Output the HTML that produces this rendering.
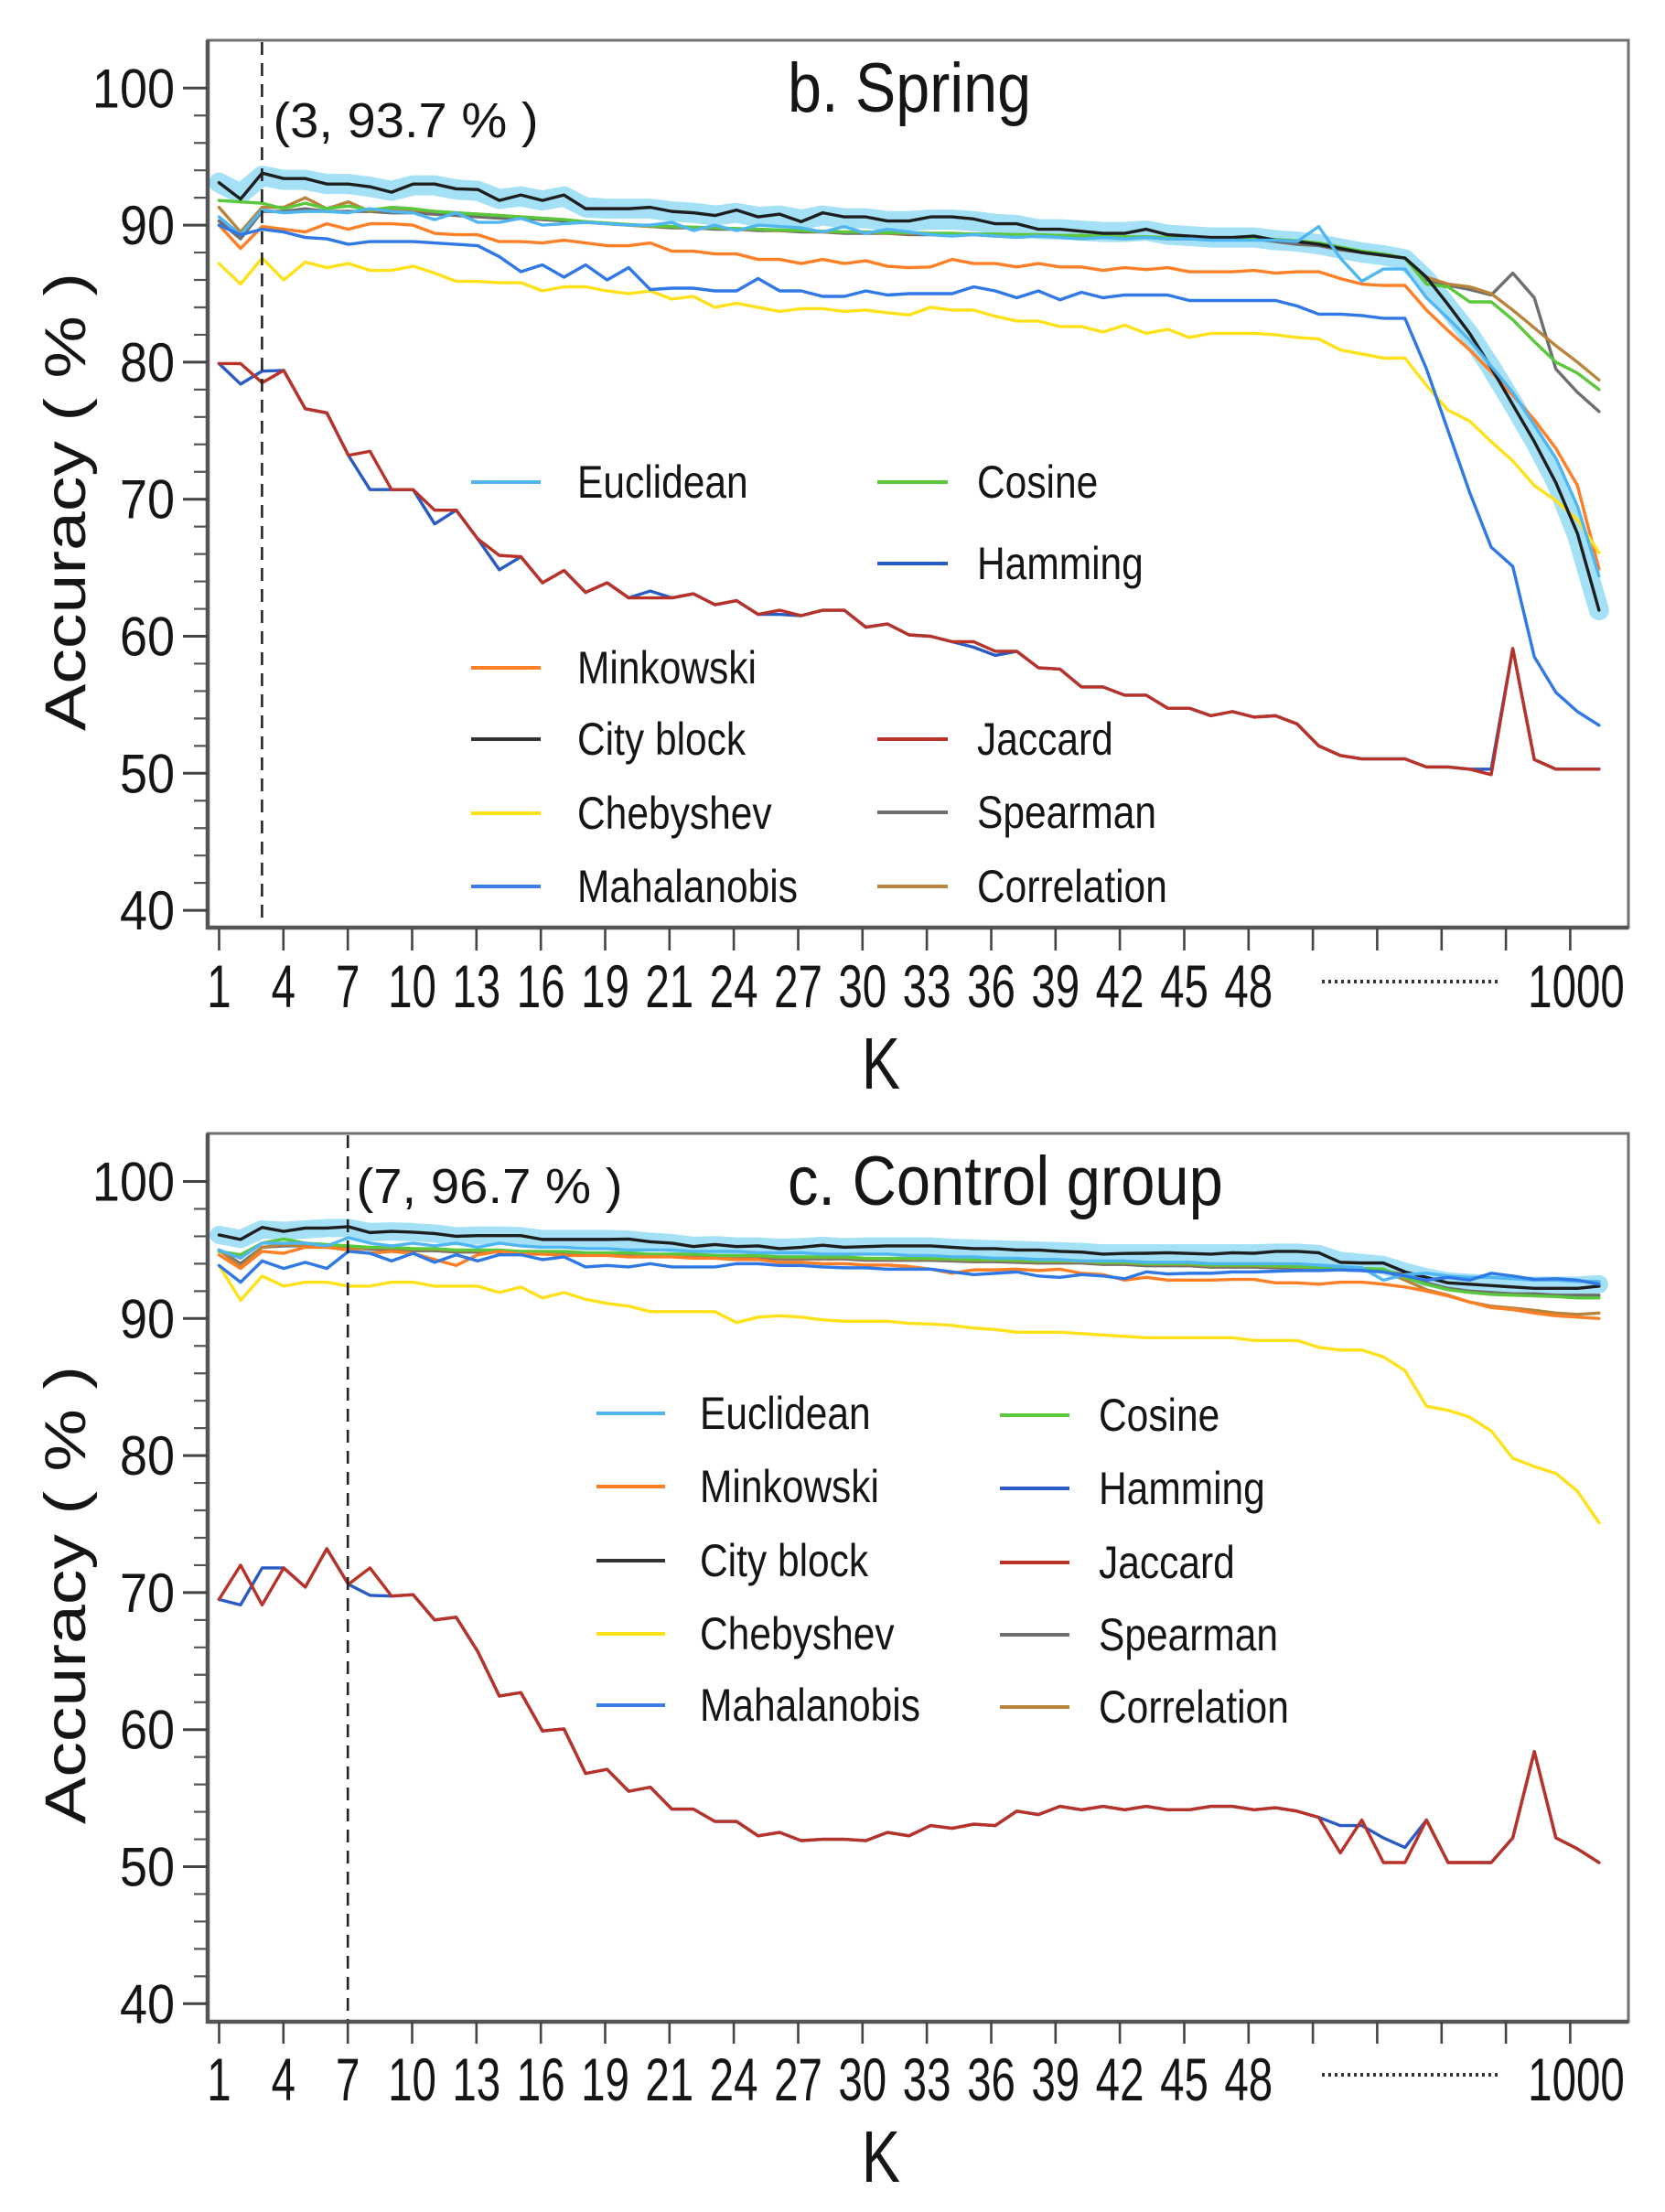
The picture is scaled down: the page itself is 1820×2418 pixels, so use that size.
<!DOCTYPE html>
<html><head><meta charset="utf-8"><style>
html,body{margin:0;padding:0;background:#fff;}
svg{display:block;}
text{font-family:"Liberation Sans",Arial,sans-serif;fill:#151515;}
.s{fill:none;stroke-width:3.4;stroke-linejoin:round;stroke-linecap:round;}
</style></head><body>
<svg width="1820" height="2418" viewBox="0 0 1820 2418" xmlns="http://www.w3.org/2000/svg">
<rect width="1820" height="2418" fill="#fff"/>

<!-- ================= PANEL B ================= -->
<g>
<!-- data -->
<g transform="translate(239.4,1594.3) scale(23.57,-14.98)">
<polyline class="s" vector-effect="non-scaling-stroke" style="stroke:#a4e1f6;stroke-width:22" points="0,93.1 1,92.3 2,93.6 3,93.3 4,93.3 5,93 6,93 7,92.8 8,92.5 9,92.9 10,92.9 11,92.6 12,92.5 13,91.9 14,92.1 15,91.8 16,92.1 17,91.3 18,91.2 19,91.2 20,91.2 21,91 22,90.9 23,90.7 24,90.9 25,90.6 26,90.7 27,90.4 28,90.7 29,90.5 30,90.5 31,90.3 32,90.3 33,90.4 34,90.4 35,90.3 36,90.1 37,90 38,89.7 39,89.7 40,89.6 41,89.5 42,89.5 43,89.6 44,89.3 45,89.2 46,89.1 47,89.1 48,89.1 49,88.9 50,88.8 51,88.6 52,88.3 53,88 54,87.8 55,87.5 56,86 57,84 58,82 59,79.6 60,77 61,74.3 62,71.3 63,67.3 64,61.9"/>
<polyline class="s" vector-effect="non-scaling-stroke" stroke="#6e6e6e" points="0,90.3 1,89 2,91 3,91 4,91.2 5,91 6,91 7,91 8,90.9 9,90.9 10,90.8 11,90.7 12,90.6 13,90.5 14,90.5 15,90.4 16,90.3 17,90.2 18,90.1 19,90 20,89.9 21,89.8 22,89.8 23,89.7 24,89.7 25,89.6 26,89.6 27,89.5 28,89.5 29,89.4 30,89.4 31,89.4 32,89.3 33,89.3 34,89.3 35,89.3 36,89.2 37,89.2 38,89.2 39,89.2 40,89.1 41,89.1 42,89.1 43,89.1 44,89 45,89 46,89 47,89 48,89 49,88.8 50,88.6 51,88.5 52,88.2 53,88 54,87.8 55,87.6 56,86 57,85.6 58,85.3 59,84.9 60,86.5 61,84.7 62,79.5 63,77.8 64,76.4"/>
<polyline class="s" vector-effect="non-scaling-stroke" stroke="#b8843c" points="0,91.3 1,89.5 2,91.3 3,91.3 4,92 5,91.2 6,91.7 7,91 8,91.2 9,91.1 10,91 11,90.9 12,90.8 13,90.7 14,90.6 15,90.5 16,90.4 17,90.2 18,90.1 19,90 20,89.9 21,89.9 22,89.8 23,89.8 24,89.7 25,89.7 26,89.6 27,89.6 28,89.5 29,89.5 30,89.5 31,89.4 32,89.4 33,89.4 34,89.4 35,89.3 36,89.3 37,89.3 38,89.3 39,89.2 40,89.2 41,89.2 42,89.1 43,89.1 44,89.1 45,89 46,89 47,89 48,89 49,88.9 50,88.8 51,88.6 52,88.3 53,88 54,87.8 55,87.6 56,86.2 57,85.7 58,85.5 59,85 60,83.8 61,82.5 62,81.2 63,80 64,78.7"/>
<polyline class="s" vector-effect="non-scaling-stroke" stroke="#59c83a" points="0,91.8 1,91.7 2,91.6 3,91.2 4,91.6 5,91.2 6,91.4 7,91.1 8,91.3 9,91.2 10,91 11,90.9 12,90.8 13,90.7 14,90.6 15,90.5 16,90.4 17,90.25 18,90.15 19,90.05 20,89.95 21,89.9 22,89.85 23,89.8 24,89.75 25,89.7 26,89.65 27,89.6 28,89.55 29,89.5 30,89.5 31,89.45 32,89.45 33,89.4 34,89.4 35,89.35 36,89.35 37,89.3 38,89.3 39,89.25 40,89.25 41,89.2 42,89.15 43,89.15 44,89.1 45,89.05 46,89.05 47,89 48,89 49,88.95 50,88.85 51,88.7 52,88.4 53,88.1 54,87.9 55,87.6 56,85.7 57,85.5 58,84.4 59,84.4 60,83.1 61,81.5 62,80 63,79.2 64,78"/>
<polyline class="s" vector-effect="non-scaling-stroke" stroke="#ff7f27" points="0,90 1,88.3 2,89.9 3,89.7 4,89.5 5,90.1 6,89.7 7,90.1 8,90.1 9,90 10,89.4 11,89.3 12,89.3 13,88.8 14,88.8 15,88.7 16,88.9 17,88.7 18,88.5 19,88.5 20,88.7 21,88.1 22,88.1 23,87.9 24,87.9 25,87.5 26,87.5 27,87.2 28,87.5 29,87.2 30,87.4 31,87 32,86.9 33,86.95 34,87.5 35,87.2 36,87.2 37,86.95 38,87.2 39,86.95 40,86.95 41,86.7 42,86.9 43,86.76 44,86.9 45,86.6 46,86.6 47,86.6 48,86.7 49,86.5 50,86.6 51,86.6 52,86.1 53,85.7 54,85.6 55,85.6 56,83.8 57,82.3 58,80.9 59,79.3 60,77.6 61,75.8 62,73.7 63,71 64,64.9"/>
<polyline class="s" vector-effect="non-scaling-stroke" stroke="#ffe11a" points="0,87.2 1,85.7 2,87.6 3,86 4,87.3 5,86.9 6,87.2 7,86.7 8,86.7 9,87 10,86.5 11,85.9 12,85.9 13,85.8 14,85.8 15,85.2 16,85.5 17,85.5 18,85.2 19,85 20,85.2 21,84.6 22,84.8 23,84 24,84.3 25,84 26,83.7 27,83.9 28,83.9 29,83.7 30,83.8 31,83.6 32,83.45 33,84 34,83.8 35,83.8 36,83.35 37,83 38,83 39,82.6 40,82.6 41,82.2 42,82.7 43,82.1 44,82.4 45,81.8 46,82.1 47,82.1 48,82.1 49,82 50,81.8 51,81.7 52,80.9 53,80.6 54,80.3 55,80.3 56,78.3 57,76.5 58,75.7 59,74.2 60,72.8 61,71 62,69.9 63,68.5 64,66.1"/>
<polyline class="s" vector-effect="non-scaling-stroke" stroke="#1e1e1e" points="0,93.1 1,91.9 2,93.8 3,93.4 4,93.4 5,93 6,93 7,92.8 8,92.4 9,93 10,93 11,92.65 12,92.6 13,91.8 14,92.2 15,91.8 16,92.2 17,91.2 18,91.2 19,91.2 20,91.3 21,91 22,90.9 23,90.7 24,91.1 25,90.6 26,90.8 27,90.25 28,90.9 29,90.6 30,90.6 31,90.3 32,90.3 33,90.6 34,90.6 35,90.45 36,90.1 37,90.1 38,89.7 39,89.7 40,89.55 41,89.4 42,89.4 43,89.7 44,89.3 45,89.2 46,89.1 47,89.1 48,89.2 49,88.9 50,88.8 51,88.6 52,88.3 53,88 54,87.8 55,87.6 56,86.2 57,84.2 58,82.1 59,79.6 60,76.9 61,74.2 62,71.2 63,67.5 64,61.9"/>
<polyline class="s" vector-effect="non-scaling-stroke" stroke="#4fb6f2" points="0,90.6 1,89.3 2,91.1 3,90.9 4,91 5,91 6,90.9 7,91.2 8,91 9,90.9 10,90.4 11,90.9 12,90.2 13,90.2 14,90.5 15,90 16,90.1 17,90.2 18,90.1 19,90 20,90 21,90.2 22,89.6 23,90 24,89.6 25,90 26,89.9 27,89.8 28,89.5 29,89.9 30,89.4 31,89.7 32,89.5 33,89.3 34,89.2 35,89.3 36,89.2 37,89.1 38,89.2 39,89.1 40,89 41,89.1 42,89 43,89.1 44,89 45,89 46,88.9 47,88.9 48,88.9 49,88.9 50,88.8 51,89.9 52,87.6 53,85.9 54,86.8 55,86.8 56,84.7 57,83.2 58,81.6 59,79.7 60,77.8 61,75.4 62,73 63,69.5 64,64.4"/>
<polyline class="s" vector-effect="non-scaling-stroke" stroke="#2f78e6" points="0,90 1,89.3 2,89.7 3,89.5 4,89.1 5,89 6,88.6 7,88.8 8,88.8 9,88.8 10,88.7 11,88.6 12,88.5 13,87.7 14,86.6 15,87.1 16,86.2 17,87.1 18,86 19,86.9 20,85.3 21,85.4 22,85.4 23,85.2 24,85.2 25,86.1 26,85.2 27,85.2 28,84.8 29,84.8 30,85.2 31,84.9 32,85 33,85 34,85 35,85.5 36,85.2 37,84.7 38,85.2 39,84.55 40,85.1 41,84.7 42,84.9 43,84.9 44,84.9 45,84.5 46,84.5 47,84.5 48,84.5 49,84.5 50,84.1 51,83.5 52,83.5 53,83.4 54,83.2 55,83.2 56,79.5 57,75 58,70.5 59,66.5 60,65.1 61,58.5 62,55.9 63,54.5 64,53.5"/>
<polyline class="s" vector-effect="non-scaling-stroke" stroke="#2a5bc4" points="0,79.9 1,78.4 2,79.35 3,79.4 4,76.6 5,76.3 6,73.2 7,70.7 8,70.7 9,70.7 10,68.2 11,69.2 12,67.1 13,64.85 14,65.8 15,63.9 16,64.8 17,63.2 18,63.9 19,62.8 20,63.3 21,62.8 22,63.1 23,62.3 24,62.6 25,61.6 26,61.6 27,61.5 28,61.9 29,61.9 30,60.66 31,60.9 32,60.1 33,60 34,59.6 35,59.2 36,58.6 37,58.9 38,57.7 39,57.6 40,56.3 41,56.3 42,55.7 43,55.7 44,54.75 45,54.75 46,54.2 47,54.5 48,54.1 49,54.2 50,53.6 51,52 52,51.3 53,51.05 54,51.05 55,51.05 56,50.46 57,50.46 58,50.3 59,50.3 60,59.1 61,51 62,50.3 63,50.3 64,50.3"/>
<polyline class="s" vector-effect="non-scaling-stroke" stroke="#b83228" points="0,79.9 1,79.9 2,78.5 3,79.4 4,76.6 5,76.3 6,73.2 7,73.5 8,70.7 9,70.7 10,69.2 11,69.2 12,67.1 13,65.9 14,65.8 15,63.9 16,64.8 17,63.2 18,63.9 19,62.8 20,62.8 21,62.8 22,63.1 23,62.3 24,62.6 25,61.6 26,61.9 27,61.5 28,61.9 29,61.9 30,60.66 31,60.9 32,60.1 33,60 34,59.6 35,59.6 36,58.9 37,58.9 38,57.7 39,57.6 40,56.3 41,56.3 42,55.7 43,55.7 44,54.75 45,54.75 46,54.2 47,54.5 48,54.1 49,54.2 50,53.6 51,52 52,51.3 53,51.05 54,51.05 55,51.05 56,50.46 57,50.46 58,50.3 59,49.9 60,59.1 61,51 62,50.3 63,50.3 64,50.3"/>
</g>

<!-- dashed marker -->
<line x1="286.4" y1="46" x2="286.4" y2="1013" stroke="#222" stroke-width="2.6" stroke-dasharray="14 9"/>

<!-- frame -->
<rect x="227" y="44" width="1553" height="970" fill="none" stroke="#707070" stroke-width="3"/>
<path d="M227 44 V1014 H1780" fill="none" stroke="#555" stroke-width="4.5"/>

<!-- y ticks -->
<path d="M200 100H227M200 90H227M200 80H227M200 70H227M200 60H227M200 50H227M200 40H227" transform="translate(0,1594.3) scale(1,-14.98)" vector-effect="non-scaling-stroke" stroke="#444" stroke-width="3" fill="none"/>
<path d="M212 98H227M212 96H227M212 94H227M212 92H227M212 88H227M212 86H227M212 84H227M212 82H227M212 78H227M212 76H227M212 74H227M212 72H227M212 68H227M212 66H227M212 64H227M212 62H227M212 58H227M212 56H227M212 54H227M212 52H227M212 48H227M212 46H227M212 44H227M212 42H227" transform="translate(0,1594.3) scale(1,-14.98)" vector-effect="non-scaling-stroke" stroke="#555" stroke-width="2.2" fill="none"/>

<!-- y tick labels -->
<g font-size="60" text-anchor="end">
<text transform="translate(191,117.3) scale(0.9,1)">100</text>
<text transform="translate(191,267.1) scale(0.9,1)">90</text>
<text transform="translate(191,416.9) scale(0.9,1)">80</text>
<text transform="translate(191,566.7) scale(0.9,1)">70</text>
<text transform="translate(191,716.5) scale(0.9,1)">60</text>
<text transform="translate(191,866.3) scale(0.9,1)">50</text>
<text transform="translate(191,1016.1) scale(0.9,1)">40</text>
</g>

<!-- x ticks -->
<path d="M239.5 1015V1039M309.8 1015V1039M380.2 1015V1039M450.5 1015V1039M520.8 1015V1039M591.2 1015V1039M661.5 1015V1039M731.8 1015V1039M802.1 1015V1039M872.5 1015V1039M942.8 1015V1039M1013.1 1015V1039M1083.5 1015V1039M1153.8 1015V1039M1224.1 1015V1039M1294.5 1015V1039M1364.8 1015V1039M1435.1 1015V1039M1505.4 1015V1039M1575.8 1015V1039M1646.1 1015V1039M1716.4 1015V1039" stroke="#444" stroke-width="2.6" fill="none"/>

<!-- x tick labels -->
<g font-size="66" text-anchor="middle">
<text transform="translate(239.5,1101) scale(0.72,1)">1</text>
<text transform="translate(309.8,1101) scale(0.72,1)">4</text>
<text transform="translate(380.2,1101) scale(0.72,1)">7</text>
<text transform="translate(450.5,1101) scale(0.72,1)">10</text>
<text transform="translate(520.8,1101) scale(0.72,1)">13</text>
<text transform="translate(591.2,1101) scale(0.72,1)">16</text>
<text transform="translate(661.5,1101) scale(0.72,1)">19</text>
<text transform="translate(731.8,1101) scale(0.72,1)">21</text>
<text transform="translate(802.1,1101) scale(0.72,1)">24</text>
<text transform="translate(872.5,1101) scale(0.72,1)">27</text>
<text transform="translate(942.8,1101) scale(0.72,1)">30</text>
<text transform="translate(1013.1,1101) scale(0.72,1)">33</text>
<text transform="translate(1083.5,1101) scale(0.72,1)">36</text>
<text transform="translate(1153.8,1101) scale(0.72,1)">39</text>
<text transform="translate(1224.1,1101) scale(0.72,1)">42</text>
<text transform="translate(1294.5,1101) scale(0.72,1)">45</text>
<text transform="translate(1364.8,1101) scale(0.72,1)">48</text>
<text transform="translate(1723,1101) scale(0.72,1)">1000</text>
</g>
<line x1="1445" y1="1073" x2="1640" y2="1073" stroke="#333" stroke-width="4" stroke-dasharray="3 4"/>
<text font-size="80" text-anchor="middle" transform="translate(963,1190) scale(0.79,1)">K</text>

<!-- y title -->
<text font-size="63" transform="translate(93,799) rotate(-90)" textLength="501" lengthAdjust="spacingAndGlyphs">Accuracy ( % )</text>

<!-- title & annotation -->
<text font-size="76" transform="translate(861,122) scale(0.875,1)">b. Spring</text>
<text font-size="54" x="298.5" y="150" textLength="290" lengthAdjust="spacingAndGlyphs">(3, 93.7 % )</text>

<!-- legend -->
<g stroke-width="4">
<line x1="515" y1="527" x2="591" y2="527" stroke="#4fb6f2"/>
<line x1="515" y1="730" x2="591" y2="730" stroke="#ff7f27"/>
<line x1="515" y1="808" x2="591" y2="808" stroke="#333"/>
<line x1="515" y1="889" x2="591" y2="889" stroke="#ffe11a"/>
<line x1="515" y1="969" x2="591" y2="969" stroke="#3a7ee8"/>
<line x1="959" y1="527" x2="1036" y2="527" stroke="#59c83a"/>
<line x1="959" y1="616" x2="1036" y2="616" stroke="#2a5bc4"/>
<line x1="959" y1="808" x2="1036" y2="808" stroke="#b83228"/>
<line x1="959" y1="888" x2="1036" y2="888" stroke="#6e6e6e"/>
<line x1="959" y1="969" x2="1036" y2="969" stroke="#b8843c"/>
</g>
<g font-size="50">
<text transform="translate(631,544) scale(0.85,1)">Euclidean</text>
<text transform="translate(631,747) scale(0.85,1)">Minkowski</text>
<text transform="translate(631,825) scale(0.85,1)">City block</text>
<text transform="translate(631,906) scale(0.85,1)">Chebyshev</text>
<text transform="translate(631,986) scale(0.85,1)">Mahalanobis</text>
<text transform="translate(1068,544) scale(0.85,1)">Cosine</text>
<text transform="translate(1068,633) scale(0.85,1)">Hamming</text>
<text transform="translate(1068,825) scale(0.85,1)">Jaccard</text>
<text transform="translate(1068,905) scale(0.85,1)">Spearman</text>
<text transform="translate(1068,986) scale(0.85,1)">Correlation</text>
</g>
</g>

<!-- ================= PANEL C ================= -->
<g>
<g transform="translate(239.4,2789.5) scale(23.57,-14.98)">
<polyline class="s" vector-effect="non-scaling-stroke" style="stroke:#a4e1f6;stroke-width:20" points="0,96.1 1,95.8 2,96.5 3,96.4 4,96.5 5,96.6 6,96.6 7,96.3 8,96.35 9,96.3 10,96.2 11,96 12,96.05 13,96.05 14,96 15,95.8 16,95.8 17,95.8 18,95.8 19,95.75 20,95.6 21,95.5 22,95.3 23,95.35 24,95.25 25,95.25 26,95.15 27,95.2 28,95.3 29,95.2 30,95.25 31,95.25 32,95.25 33,95.25 34,95.15 35,95.1 36,95.05 37,95 38,94.95 39,94.9 40,94.85 41,94.75 42,94.75 43,94.75 44,94.75 45,94.75 46,94.75 47,94.75 48,94.75 49,94.8 50,94.8 51,94.7 52,94.2 53,94.05 54,93.9 55,93.4 56,93 57,92.7 58,92.6 59,92.5 60,92.4 61,92.4 62,92.4 63,92.4 64,92.5"/>
<polyline class="s" vector-effect="non-scaling-stroke" stroke="#6e6e6e" points="0,95 1,94 2,95.2 3,95.3 4,95.3 5,95.2 6,95.2 7,95.05 8,95.05 9,94.95 10,94.95 11,94.85 12,94.85 13,94.85 14,94.75 15,94.75 16,94.75 17,94.65 18,94.65 19,94.65 20,94.55 21,94.55 22,94.55 23,94.45 24,94.45 25,94.45 26,94.35 27,94.35 28,94.35 29,94.35 30,94.25 31,94.25 32,94.25 33,94.25 34,94.2 35,94.15 36,94.15 37,94.1 38,94.05 39,94.05 40,94.05 41,93.95 42,93.95 43,93.85 44,93.85 45,93.85 46,93.75 47,93.75 48,93.75 49,93.7 50,93.65 51,93.6 52,93.55 53,93.5 54,93.45 55,93.2 56,92.6 57,92.2 58,92 59,91.9 60,91.8 61,91.8 62,91.7 63,91.7 64,91.7"/>
<polyline class="s" vector-effect="non-scaling-stroke" stroke="#b8843c" points="0,95 1,93.8 2,95.2 3,95.4 4,95.3 5,95.2 6,95.1 7,95.15 8,95.15 9,95.05 10,95.05 11,94.95 12,94.95 13,94.95 14,94.85 15,94.85 16,94.85 17,94.75 18,94.75 19,94.75 20,94.65 21,94.65 22,94.65 23,94.55 24,94.55 25,94.55 26,94.45 27,94.45 28,94.45 29,94.45 30,94.35 31,94.35 32,94.35 33,94.35 34,94.3 35,94.25 36,94.25 37,94.2 38,94.15 39,94.15 40,94.15 41,94.05 42,94.05 43,93.95 44,93.95 45,93.95 46,93.85 47,93.85 48,93.85 49,93.8 50,93.75 51,93.7 52,93.65 53,93.6 54,93.55 55,92.8 56,92.1 57,91.7 58,91.2 59,90.9 60,90.76 61,90.6 62,90.4 63,90.3 64,90.4"/>
<polyline class="s" vector-effect="non-scaling-stroke" stroke="#59c83a" points="0,94.9 1,94.65 2,95.5 3,95.8 4,95.5 5,95.4 6,95.3 7,95.2 8,95.2 9,95.1 10,95.1 11,95 12,95 13,95 14,94.9 15,94.9 16,94.9 17,94.8 18,94.8 19,94.8 20,94.7 21,94.7 22,94.7 23,94.6 24,94.6 25,94.6 26,94.5 27,94.5 28,94.5 29,94.5 30,94.4 31,94.4 32,94.4 33,94.4 34,94.35 35,94.3 36,94.3 37,94.25 38,94.2 39,94.2 40,94.2 41,94.1 42,94.1 43,94 44,94 45,94 46,93.9 47,93.9 48,93.9 49,93.85 50,93.8 51,93.75 52,93.7 53,93.65 54,93.6 55,93 56,92.5 57,92.1 58,91.9 59,91.76 60,91.7 61,91.65 62,91.6 63,91.5 64,91.5"/>
<polyline class="s" vector-effect="non-scaling-stroke" stroke="#ff7f27" points="0,94.65 1,93.65 2,94.9 3,94.76 4,95.2 5,95.2 6,95 7,94.76 8,94.9 9,94.76 10,94.3 11,93.87 12,94.65 13,94.9 14,94.7 15,94.7 16,94.6 17,94.6 18,94.6 19,94.5 20,94.5 21,94.5 22,94.4 23,94.4 24,94.3 25,94.3 26,94.1 27,94.1 28,94 29,94 30,93.9 31,93.9 32,93.8 33,93.6 34,93.3 35,93.55 36,93.55 37,93.6 38,93.5 39,93.6 40,93.3 41,93.2 42,92.8 43,93 44,92.8 45,92.8 46,92.8 47,92.85 48,92.85 49,92.6 50,92.6 51,92.5 52,92.65 53,92.65 54,92.5 55,92.3 56,92 57,91.65 58,91.2 59,90.8 60,90.65 61,90.4 62,90.2 63,90.1 64,90"/>
<polyline class="s" vector-effect="non-scaling-stroke" stroke="#ffe11a" points="0,93.87 1,91.33 2,93.1 3,92.36 4,92.65 5,92.65 6,92.36 7,92.36 8,92.65 9,92.65 10,92.36 11,92.36 12,92.36 13,91.9 14,92.3 15,91.5 16,91.9 17,91.4 18,91.1 19,90.9 20,90.5 21,90.5 22,90.5 23,90.5 24,89.7 25,90.1 26,90.2 27,90.1 28,89.9 29,89.8 30,89.8 31,89.8 32,89.65 33,89.6 34,89.5 35,89.3 36,89.2 37,89 38,89 39,89 40,88.9 41,88.8 42,88.7 43,88.6 44,88.6 45,88.6 46,88.6 47,88.6 48,88.4 49,88.4 50,88.4 51,87.9 52,87.7 53,87.7 54,87.2 55,86.2 56,83.6 57,83.3 58,82.8 59,81.8 60,79.8 61,79.2 62,78.7 63,77.4 64,75.1"/>
<polyline class="s" vector-effect="non-scaling-stroke" stroke="#1e1e1e" points="0,96.1 1,95.77 2,96.65 3,96.36 4,96.6 5,96.6 6,96.7 7,96.27 8,96.36 9,96.3 10,96.2 11,96 12,96.05 13,96.05 14,96.05 15,95.77 16,95.77 17,95.77 18,95.77 19,95.8 20,95.6 21,95.5 22,95.25 23,95.4 24,95.25 25,95.3 26,95.1 27,95.2 28,95.35 29,95.2 30,95.25 31,95.3 32,95.3 33,95.3 34,95.2 35,95.1 36,95.1 37,95 38,95 39,94.9 40,94.85 41,94.7 42,94.75 43,94.76 44,94.8 45,94.75 46,94.7 47,94.8 48,94.76 49,94.9 50,94.9 51,94.8 52,94.1 53,94.05 54,94.05 55,93.4 56,93 57,92.6 58,92.5 59,92.4 60,92.3 61,92.2 62,92.2 63,92.2 64,92.36"/>
<polyline class="s" vector-effect="non-scaling-stroke" stroke="#4fb6f2" points="0,95 1,94.4 2,95.5 3,95.5 4,95.5 5,95.3 6,95.9 7,95.5 8,95.3 9,95.5 10,95.3 11,95.5 12,95.2 13,95.5 14,95.3 15,95.2 16,95.2 17,95.1 18,95.1 19,95 20,95 21,95 22,94.9 23,94.9 24,94.9 25,94.8 26,94.8 27,94.8 28,94.7 29,94.7 30,94.7 31,94.7 32,94.6 33,94.6 34,94.5 35,94.5 36,94.4 37,94.4 38,94.3 39,94.3 40,94.2 41,94.2 42,94.2 43,94.1 44,94.1 45,94.1 46,94 47,94 48,94 49,94 50,94 51,93.9 52,93.8 53,93.7 54,92.8 55,93.2 56,93.3 57,93.1 58,93 59,93 60,92.9 61,92.8 62,92.8 63,92.7 64,92.7"/>
<polyline class="s" vector-effect="non-scaling-stroke" stroke="#2f78e6" points="0,93.87 1,92.65 2,94.2 3,93.65 4,94.1 5,93.65 6,94.9 7,94.76 8,94.2 9,94.76 10,94.1 11,94.65 12,94.2 13,94.65 14,94.65 15,94.3 16,94.5 17,93.76 18,93.87 19,93.76 20,94 21,93.76 22,93.76 23,93.76 24,94 25,94 26,93.87 27,93.87 28,93.76 29,93.7 30,93.7 31,93.6 32,93.6 33,93.6 34,93.4 35,93.2 36,93.3 37,93.4 38,93.1 39,93 40,93.2 41,93.1 42,92.9 43,93.4 44,93.25 45,93.3 46,93.3 47,93.4 48,93.4 49,93.45 50,93.5 51,93.5 52,93.55 53,93.5 54,93.4 55,93.1 56,92.8 57,93 58,92.8 59,93.3 60,93.1 61,92.85 62,92.9 63,92.8 64,92.5"/>
<polyline class="s" vector-effect="non-scaling-stroke" stroke="#2a5bc4" points="0,69.5 1,69.1 2,71.8 3,71.8 4,70.4 5,73.2 6,70.6 7,69.8 8,69.75 9,69.85 10,68 11,68.2 12,65.7 13,62.45 14,62.7 15,59.9 16,60.05 17,56.8 18,57.1 19,55.5 20,55.8 21,54.2 22,54.2 23,53.3 24,53.3 25,52.25 26,52.5 27,51.9 28,52 29,52 30,51.9 31,52.5 32,52.25 33,53 34,52.8 35,53.1 36,53 37,54.05 38,53.8 39,54.4 40,54.15 41,54.4 42,54.15 43,54.4 44,54.15 45,54.15 46,54.4 47,54.4 48,54.15 49,54.3 50,54.05 51,53.6 52,53 53,53 54,52.1 55,51.4 56,53.4 57,50.3 58,50.3 59,50.3 60,52.1 61,58.4 62,52.1 63,51.3 64,50.3"/>
<polyline class="s" vector-effect="non-scaling-stroke" stroke="#b83228" points="0,69.5 1,72 2,69.1 3,71.8 4,70.4 5,73.2 6,70.6 7,71.8 8,69.75 9,69.85 10,68 11,68.2 12,65.7 13,62.45 14,62.7 15,59.9 16,60.05 17,56.8 18,57.1 19,55.5 20,55.8 21,54.2 22,54.2 23,53.3 24,53.3 25,52.25 26,52.5 27,51.9 28,52 29,52 30,51.9 31,52.5 32,52.25 33,53 34,52.8 35,53.1 36,53 37,54.05 38,53.8 39,54.4 40,54.15 41,54.4 42,54.15 43,54.4 44,54.15 45,54.15 46,54.4 47,54.4 48,54.15 49,54.3 50,54.05 51,53.6 52,51 53,53.4 54,50.3 55,50.3 56,53.4 57,50.3 58,50.3 59,50.3 60,52.1 61,58.4 62,52.1 63,51.3 64,50.3"/>
</g>

<line x1="380.2" y1="1241" x2="380.2" y2="2209" stroke="#222" stroke-width="2.6" stroke-dasharray="14 9"/>

<rect x="227" y="1239" width="1553" height="971" fill="none" stroke="#707070" stroke-width="3"/>
<path d="M227 1239 V2210 H1780" fill="none" stroke="#555" stroke-width="4.5"/>

<path d="M200 100H227M200 90H227M200 80H227M200 70H227M200 60H227M200 50H227M200 40H227" transform="translate(0,2789.5) scale(1,-14.98)" vector-effect="non-scaling-stroke" stroke="#444" stroke-width="3" fill="none"/>
<path d="M212 98H227M212 96H227M212 94H227M212 92H227M212 88H227M212 86H227M212 84H227M212 82H227M212 78H227M212 76H227M212 74H227M212 72H227M212 68H227M212 66H227M212 64H227M212 62H227M212 58H227M212 56H227M212 54H227M212 52H227M212 48H227M212 46H227M212 44H227M212 42H227" transform="translate(0,2789.5) scale(1,-14.98)" vector-effect="non-scaling-stroke" stroke="#555" stroke-width="2.2" fill="none"/>

<g font-size="60" text-anchor="end">
<text transform="translate(191,1312.5) scale(0.9,1)">100</text>
<text transform="translate(191,1462.3) scale(0.9,1)">90</text>
<text transform="translate(191,1612.1) scale(0.9,1)">80</text>
<text transform="translate(191,1761.9) scale(0.9,1)">70</text>
<text transform="translate(191,1911.7) scale(0.9,1)">60</text>
<text transform="translate(191,2061.5) scale(0.9,1)">50</text>
<text transform="translate(191,2211.3) scale(0.9,1)">40</text>
</g>

<path d="M239.5 2210V2234M309.8 2210V2234M380.2 2210V2234M450.5 2210V2234M520.8 2210V2234M591.2 2210V2234M661.5 2210V2234M731.8 2210V2234M802.1 2210V2234M872.5 2210V2234M942.8 2210V2234M1013.1 2210V2234M1083.5 2210V2234M1153.8 2210V2234M1224.1 2210V2234M1294.5 2210V2234M1364.8 2210V2234M1435.1 2210V2234M1505.4 2210V2234M1575.8 2210V2234M1646.1 2210V2234M1716.4 2210V2234" stroke="#444" stroke-width="2.6" fill="none"/>

<g font-size="66" text-anchor="middle">
<text transform="translate(239.5,2296) scale(0.72,1)">1</text>
<text transform="translate(309.8,2296) scale(0.72,1)">4</text>
<text transform="translate(380.2,2296) scale(0.72,1)">7</text>
<text transform="translate(450.5,2296) scale(0.72,1)">10</text>
<text transform="translate(520.8,2296) scale(0.72,1)">13</text>
<text transform="translate(591.2,2296) scale(0.72,1)">16</text>
<text transform="translate(661.5,2296) scale(0.72,1)">19</text>
<text transform="translate(731.8,2296) scale(0.72,1)">21</text>
<text transform="translate(802.1,2296) scale(0.72,1)">24</text>
<text transform="translate(872.5,2296) scale(0.72,1)">27</text>
<text transform="translate(942.8,2296) scale(0.72,1)">30</text>
<text transform="translate(1013.1,2296) scale(0.72,1)">33</text>
<text transform="translate(1083.5,2296) scale(0.72,1)">36</text>
<text transform="translate(1153.8,2296) scale(0.72,1)">39</text>
<text transform="translate(1224.1,2296) scale(0.72,1)">42</text>
<text transform="translate(1294.5,2296) scale(0.72,1)">45</text>
<text transform="translate(1364.8,2296) scale(0.72,1)">48</text>
<text transform="translate(1723,2296) scale(0.72,1)">1000</text>
</g>
<line x1="1445" y1="2268" x2="1640" y2="2268" stroke="#333" stroke-width="4" stroke-dasharray="3 4"/>
<text font-size="80" text-anchor="middle" transform="translate(963,2385) scale(0.79,1)">K</text>

<text font-size="63" transform="translate(93,1994) rotate(-90)" textLength="501" lengthAdjust="spacingAndGlyphs">Accuracy ( % )</text>

<text font-size="76" transform="translate(861,1317) scale(0.88,1)">c. Control group</text>
<text font-size="54" x="389.5" y="1315" textLength="291" lengthAdjust="spacingAndGlyphs">(7, 96.7 % )</text>

<g stroke-width="4">
<line x1="652" y1="1545" x2="727" y2="1545" stroke="#4fb6f2"/>
<line x1="652" y1="1625" x2="727" y2="1625" stroke="#ff7f27"/>
<line x1="652" y1="1706" x2="727" y2="1706" stroke="#333"/>
<line x1="652" y1="1786" x2="727" y2="1786" stroke="#ffe11a"/>
<line x1="652" y1="1864" x2="727" y2="1864" stroke="#3a7ee8"/>
<line x1="1093" y1="1547" x2="1169" y2="1547" stroke="#59c83a"/>
<line x1="1093" y1="1627" x2="1169" y2="1627" stroke="#2a5bc4"/>
<line x1="1093" y1="1708" x2="1169" y2="1708" stroke="#b83228"/>
<line x1="1093" y1="1787" x2="1169" y2="1787" stroke="#6e6e6e"/>
<line x1="1093" y1="1866" x2="1169" y2="1866" stroke="#b8843c"/>
</g>
<g font-size="50">
<text transform="translate(765,1562) scale(0.85,1)">Euclidean</text>
<text transform="translate(765,1642) scale(0.85,1)">Minkowski</text>
<text transform="translate(765,1723) scale(0.85,1)">City block</text>
<text transform="translate(765,1803) scale(0.85,1)">Chebyshev</text>
<text transform="translate(765,1881) scale(0.85,1)">Mahalanobis</text>
<text transform="translate(1201,1564) scale(0.85,1)">Cosine</text>
<text transform="translate(1201,1644) scale(0.85,1)">Hamming</text>
<text transform="translate(1201,1725) scale(0.85,1)">Jaccard</text>
<text transform="translate(1201,1804) scale(0.85,1)">Spearman</text>
<text transform="translate(1201,1883) scale(0.85,1)">Correlation</text>
</g>
</g>
</svg>
</body></html>
